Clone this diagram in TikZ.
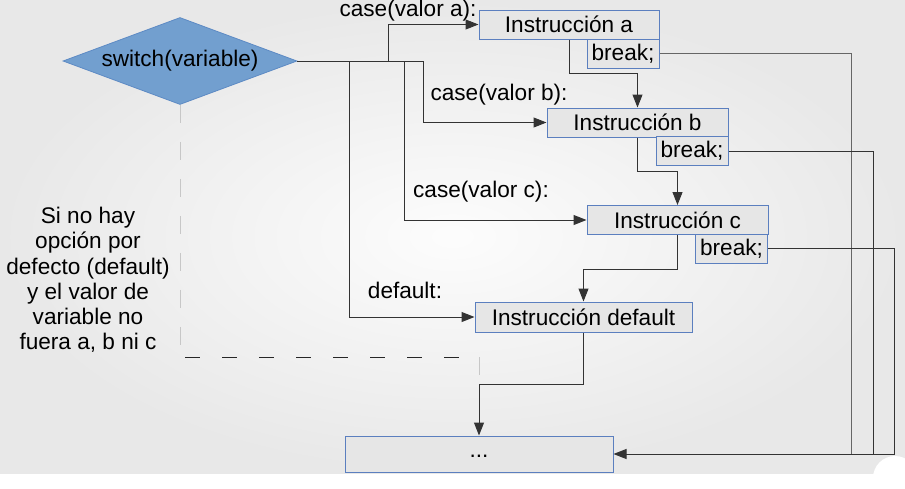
\documentclass[tikz,border=0pt]{standalone}
\usepackage{fontspec}
\setmainfont{Liberation Sans}
\usetikzlibrary{shapes.geometric,arrows.meta}

\definecolor{boxfill}{HTML}{E6E6E6}
\definecolor{boxline}{HTML}{5B7FBF}
\definecolor{diafill}{HTML}{729FCF}
\definecolor{dialine}{HTML}{5D8AC4}
\definecolor{wire}{HTML}{333333}
\def\bigfont{\fontsize{22.6}{25.2}\selectfont}

\begin{document}
\begin{tikzpicture}[x=1pt,y=-1pt]

      % Styles for the boxes, the labels and the wires between them
      \tikzstyle{instr}=[rectangle,draw=boxline,fill=boxfill,line width=1pt,inner sep=0pt,minimum height=29pt,font=\bigfont]
      \tikzstyle{diam}=[diamond,draw=dialine,fill=diafill,line width=0.8pt,inner sep=0pt,aspect=2.7,minimum width=234pt,minimum height=87pt,font=\bigfont]
      \tikzstyle{lbl}=[inner sep=0pt,font=\bigfont]
      \tikzstyle{wire}=[draw=wire,line width=1pt]
      \tikzstyle{arr}=[wire,-{Triangle[length=13pt,width=10pt]}]
      \tikzstyle{gdash}=[draw=black!22,line width=1pt,dash pattern=on 18pt off 19pt]
      \tikzstyle{kdash}=[draw=black!85,line width=1pt,dash pattern=on 15pt off 22pt,dash phase=32pt]

      % Define dimensions
      \def\bw{72}       % Width of a break box
      \def\down{34}     % Drop below a box before turning to the next one

      % Background of the slide
      \useasboundingbox (0,0) rectangle (905,488);
      \fill[white] (0,0) rectangle (905,488);
      \shade[inner color=black!1,outer color=black!9] (0,0) rectangle (905,473);
      \fill[white] (895,478) circle (22pt);

      % Nodes
      \node[diam] (sw) at (180,61) {switch(variable)};

      \node[instr,minimum width=180pt] (ia) at (569,24.5) {Instrucción a};
      \node[instr,minimum width=\bw pt] (ba) at (623,53.5) {break;};
      \node[instr,minimum width=181pt] (ib) at (637.5,122.5) {Instrucción b};
      \node[instr,minimum width=\bw pt] (bb) at (692,151) {break;};
      \node[instr,minimum width=181pt] (ic) at (677.5,220) {Instrucción c};
      \node[instr,minimum width=\bw pt] (bc) at (731.5,248.5) {break;};
      \node[instr,minimum width=217pt,minimum height=30pt] (idf) at (583.5,317) {Instrucción default};
      \node[instr,minimum width=268pt,minimum height=36pt] (dots) at (479,454) {\raisebox{-6pt}{...}};

      \node[lbl,anchor=base] (la) at (408,16) {case(valor a):};
      \node[lbl,anchor=base] (lb) at (499,100) {case(valor b):};
      \node[lbl,anchor=base] (lc) at (481,197) {case(valor c):};
      \node[lbl,anchor=base] (ld) at (405,298) {default:};
      \node[lbl,align=center] (note) at (88,280) {Si no hay\\opción por\\defecto (default)\\y el valor de\\variable no\\fuera a, b ni c};

      % Branch points on the line leaving the switch
      \coordinate (kd) at (349,61);
      \coordinate (ka) at (388,61);
      \coordinate (kc) at (404,61);
      \coordinate (kb) at (423,61);

      % Cases
      \draw[arr] (sw.east) -- (kb) |- (ib.west);
      \draw[arr] (ka) |- (ia.west);
      \draw[arr] (kc) |- (ic.west);
      \draw[arr] (kd) |- (idf.west);

      % Falling through from one instruction to the next
      \draw[arr] (ia.south) -- ++(0,\down) -| (ib.north);
      \draw[arr] (ib.south) -- ++(0,\down) -| (ic.north);
      \draw[arr] (ic.south) -- ++(0,\down) -| (idf.north);
      \draw[arr] (idf.south) -- ++(0,52) -| (dots.north);

      % Breaks jump to the end
      \path (dots.east) ++(238,0) coordinate (ra) ++(22,0) coordinate (rb) ++(21,0) coordinate (rc);
      \draw[wire,draw=black!60] (ba.east) -| (ra);
      \draw[wire] (bb.east) -| (rb);
      \draw[arr] (bc.east) -| (rc) -- (dots.east);

      % No default: dashed path
      \coordinate (dl) at (180,357);
      \coordinate (dr) at (479,357);
      \draw[gdash] (sw.south) -- (dl);
      \draw[kdash] (dl) -- (dr);
      \draw[gdash] (dr) -- ++(0,18);

\end{tikzpicture}
\end{document}
